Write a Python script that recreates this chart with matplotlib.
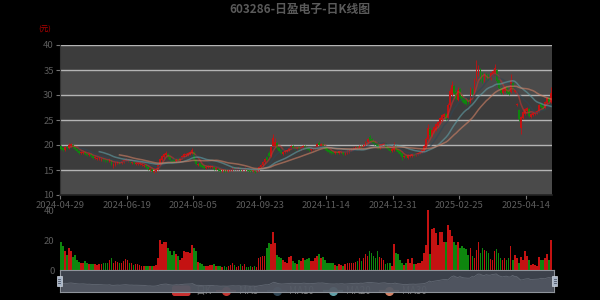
import numpy as np
import pandas as pd
import matplotlib
matplotlib.use('Agg')
import matplotlib.pyplot as plt
from matplotlib.patches import FancyBboxPatch, Rectangle
from matplotlib.lines import Line2D

plt.rcParams['font.family'] = ['Noto Sans CJK SC', 'DejaVu Sans']

title = '603286-日盈电子-日K线图'
unit_label = '(元)'
date_labels = ['2024-04-29', '2024-06-19', '2024-08-05', '2024-09-23',
               '2024-11-14', '2024-12-31', '2025-02-25', '2025-04-14']
label_step = 33  # trading days between labelled dates

# daily candles
opens = [
    19.8, 19.4, 19.0, 19.7, 19.4, 19.9, 20.1, 19.7, 19.2, 18.8,
    18.4, 18.5, 18.6, 18.3, 18.0, 18.2, 17.9, 17.4, 17.3, 17.2,
    17.1, 17.3, 17.1, 17.0, 16.8, 17.0, 15.8, 16.1, 16.4, 16.7,
    16.4, 16.7, 17.0, 16.8, 16.9, 16.5, 16.7, 16.3, 16.3, 16.2,
    16.1, 15.9, 16.0, 15.6, 15.1, 15.3, 14.7, 14.9, 15.2, 16.0,
    17.0, 17.6, 18.0, 18.2, 17.6, 17.1, 17.2, 16.8, 17.3, 17.0,
    17.4, 17.7, 18.0, 18.1, 18.3, 18.5, 18.6, 17.0, 16.0, 16.3,
    16.0, 15.8, 15.5, 15.6, 15.6, 15.7, 15.6, 15.2, 15.3, 15.1,
    14.8, 15.1, 15.0, 14.9, 15.0, 15.1, 15.5, 15.2, 15.2, 15.4,
    15.0, 15.1, 15.3, 15.1, 15.0, 14.8, 15.0, 14.8, 15.1, 15.6,
    16.1, 16.6, 17.6, 18.4, 17.9, 19.8, 19.8, 20.4, 19.5, 19.0,
    18.3, 18.6, 18.8, 19.0, 19.4, 19.8, 19.5, 19.2, 19.6, 19.2,
    19.5, 19.9, 19.6, 19.4, 19.0, 19.2, 19.4, 19.7, 20.5, 19.9,
    20.3, 19.8, 19.4, 19.0, 18.8, 18.7, 18.4, 18.7, 18.5, 18.6,
    18.7, 18.2, 18.4, 18.7, 19.0, 19.2, 19.4, 19.7, 19.4, 19.9,
    19.6, 20.0, 20.6, 21.6, 21.2, 20.8, 20.4, 20.4, 19.5, 19.8,
    20.0, 20.2, 19.6, 19.3, 18.9, 19.0, 19.9, 19.2, 18.8, 18.4,
    17.7, 17.9, 17.5, 17.9, 17.8, 18.3, 18.0, 18.2, 18.4, 18.6,
    18.9, 19.7, 21.3, 23.2, 21.8, 22.6, 23.0, 23.8, 24.4, 25.0,
    25.6, 26.3, 25.5, 28.0, 30.0, 31.8, 30.6, 29.0, 31.2, 29.8,
    29.4, 29.0, 29.0, 28.6, 31.2, 30.4, 33.0, 34.0, 35.2, 34.4,
    32.8, 34.2, 34.0, 33.2, 34.0, 34.2, 35.0, 33.0, 31.5, 30.4,
    30.8, 31.6, 31.0, 30.6, 32.5, 30.6, 28.0, 27.0, 23.5, 25.4,
    26.2, 26.8, 27.2, 25.6, 26.0, 26.2, 26.4, 26.8, 28.2, 27.8,
    27.4, 28.4, 29.4, 28.6,
]
closes = [
    19.3, 19.0, 19.6, 19.4, 20.0, 20.2, 19.7, 19.2, 18.8, 18.5,
    18.6, 18.7, 18.3, 18.0, 18.2, 17.9, 17.5, 17.6, 17.5, 17.4,
    17.3, 17.0, 16.9, 16.8, 17.2, 16.3, 16.2, 16.5, 16.7, 16.4,
    16.8, 17.1, 17.3, 17.0, 16.6, 16.7, 16.4, 16.5, 16.4, 16.4,
    16.3, 16.1, 15.6, 15.2, 15.3, 14.9, 14.9, 15.2, 16.0, 17.2,
    17.8, 18.2, 18.4, 17.6, 17.0, 16.6, 16.8, 17.3, 17.0, 17.4,
    17.8, 18.2, 18.3, 18.4, 18.6, 19.1, 17.2, 16.2, 16.3, 15.9,
    15.6, 15.5, 15.7, 15.8, 15.8, 15.9, 15.3, 15.4, 15.0, 14.8,
    15.0, 14.9, 14.8, 15.1, 15.3, 15.5, 15.2, 15.3, 15.4, 15.0,
    15.2, 15.4, 15.1, 14.9, 14.8, 15.0, 14.7, 15.0, 15.6, 16.1,
    16.6, 17.2, 17.1, 17.9, 19.6, 21.4, 20.6, 19.4, 18.8, 18.4,
    18.7, 18.9, 19.1, 19.5, 19.8, 19.4, 19.2, 19.4, 19.2, 19.6,
    19.9, 19.5, 19.3, 19.0, 19.3, 19.5, 19.7, 20.2, 20.0, 20.3,
    19.8, 19.3, 18.9, 18.6, 18.5, 18.4, 18.7, 18.5, 18.8, 18.9,
    18.3, 18.5, 18.8, 19.1, 19.3, 19.5, 19.7, 19.4, 19.9, 19.6,
    20.1, 20.7, 21.2, 21.0, 20.6, 20.3, 20.0, 19.5, 20.0, 20.3,
    20.4, 19.6, 19.2, 18.9, 19.2, 20.0, 19.1, 18.6, 18.2, 17.7,
    17.9, 17.6, 18.1, 18.1, 18.3, 18.0, 18.2, 18.5, 18.7, 19.0,
    19.8, 21.2, 23.4, 22.0, 23.0, 23.6, 24.2, 24.6, 25.4, 26.0,
    26.2, 25.3, 28.0, 30.8, 32.0, 30.4, 29.2, 31.0, 29.6, 28.8,
    28.5, 28.2, 28.4, 31.0, 30.2, 33.0, 35.2, 35.0, 33.4, 32.6,
    34.2, 33.4, 33.2, 34.4, 34.8, 35.4, 32.8, 31.4, 30.4, 31.2,
    31.6, 30.4, 30.2, 33.0, 31.2, 31.0, 28.3, 25.2, 25.6, 26.6,
    27.2, 27.4, 25.8, 26.2, 26.4, 26.6, 26.8, 28.0, 27.6, 27.3,
    28.6, 29.4, 28.6, 30.4,
]
# wick length above / below the body
upper_wick = [
    0.2, 0.2, 0.2, 0.2, 0.4, 0.3, 0.2, 0.2, 0.2, 0.2,
    0.2, 0.2, 0.2, 0.2, 0.2, 0.2, 0.2, 0.2, 0.2, 0.2,
    0.2, 0.2, 0.2, 0.2, 0.2, 0.2, 0.2, 0.2, 0.2, 0.2,
    0.2, 0.2, 0.2, 0.2, 0.2, 0.2, 0.2, 0.2, 0.2, 0.2,
    0.2, 0.2, 0.2, 0.2, 0.2, 0.2, 0.2, 0.2, 0.2, 0.3,
    0.2, 0.2, 0.4, 0.2, 0.2, 0.2, 0.2, 0.2, 0.2, 0.2,
    0.2, 0.2, 0.2, 0.2, 0.2, 0.4, 0.2, 0.2, 0.2, 0.2,
    0.2, 0.2, 0.2, 0.2, 0.2, 0.2, 0.2, 0.2, 0.2, 0.2,
    0.2, 0.2, 0.2, 0.2, 0.2, 0.2, 0.2, 0.2, 0.2, 0.2,
    0.2, 0.2, 0.2, 0.2, 0.2, 0.2, 0.2, 0.2, 0.2, 0.2,
    0.2, 0.2, 0.2, 0.4, 0.2, 0.9, 0.9, 0.2, 0.2, 0.2,
    0.2, 0.2, 0.2, 0.2, 0.2, 0.2, 0.2, 0.2, 0.2, 0.2,
    0.2, 0.2, 0.2, 0.2, 0.2, 0.2, 0.2, 0.2, 0.3, 0.2,
    0.2, 0.2, 0.2, 0.2, 0.2, 0.2, 0.2, 0.2, 0.2, 0.2,
    0.2, 0.2, 0.2, 0.2, 0.2, 0.2, 0.2, 0.2, 0.2, 0.2,
    0.2, 0.2, 0.2, 0.4, 0.2, 0.2, 0.2, 0.2, 0.2, 0.2,
    0.2, 0.2, 0.2, 0.2, 0.2, 0.6, 0.2, 0.2, 0.2, 0.2,
    0.2, 0.2, 0.2, 0.2, 0.2, 0.2, 0.2, 0.2, 0.2, 0.2,
    0.2, 0.4, 0.9, 0.2, 0.2, 0.2, 0.2, 0.2, 0.2, 0.2,
    0.2, 0.2, 0.5, 0.6, 0.8, 0.2, 0.2, 0.7, 0.2, 0.2,
    0.2, 0.2, 0.2, 0.6, 0.2, 0.5, 1.8, 1.0, 0.2, 0.2,
    0.2, 0.2, 0.2, 0.2, 0.2, 0.9, 0.2, 0.2, 0.2, 0.2,
    0.2, 0.2, 0.2, 1.3, 0.2, 0.2, 0.2, 0.2, 0.2, 0.2,
    0.2, 0.2, 0.2, 0.2, 0.2, 0.2, 0.2, 0.2, 0.2, 0.2,
    0.2, 0.2, 0.2, 1.3,
]
lower_wick = [
    0.2, 0.2, 0.2, 0.2, 0.2, 0.2, 0.2, 0.2, 0.2, 0.2,
    0.2, 0.2, 0.2, 0.2, 0.2, 0.2, 0.2, 0.2, 0.2, 0.2,
    0.2, 0.2, 0.2, 0.2, 0.2, 0.2, 0.3, 0.2, 0.2, 0.2,
    0.2, 0.2, 0.2, 0.2, 0.2, 0.2, 0.2, 0.2, 0.2, 0.2,
    0.2, 0.2, 0.2, 0.2, 0.2, 0.2, 0.3, 0.2, 0.2, 0.2,
    0.2, 0.2, 0.2, 0.2, 0.2, 0.2, 0.2, 0.2, 0.2, 0.2,
    0.2, 0.2, 0.2, 0.2, 0.2, 0.2, 0.3, 0.2, 0.2, 0.2,
    0.2, 0.2, 0.2, 0.2, 0.2, 0.2, 0.2, 0.2, 0.2, 0.2,
    0.2, 0.2, 0.2, 0.2, 0.2, 0.2, 0.2, 0.2, 0.2, 0.2,
    0.2, 0.2, 0.2, 0.2, 0.2, 0.2, 0.2, 0.2, 0.2, 0.2,
    0.2, 0.2, 0.2, 0.2, 0.2, 0.2, 0.2, 0.2, 0.2, 0.2,
    0.2, 0.2, 0.2, 0.2, 0.2, 0.2, 0.2, 0.2, 0.2, 0.2,
    0.2, 0.2, 0.2, 0.2, 0.2, 0.2, 0.2, 0.2, 0.2, 0.2,
    0.2, 0.2, 0.2, 0.2, 0.2, 0.2, 0.2, 0.2, 0.2, 0.2,
    0.2, 0.2, 0.2, 0.2, 0.2, 0.2, 0.2, 0.2, 0.2, 0.2,
    0.2, 0.2, 0.2, 0.2, 0.2, 0.2, 0.2, 0.2, 0.2, 0.2,
    0.2, 0.2, 0.2, 0.2, 0.2, 0.2, 0.2, 0.2, 0.2, 0.7,
    0.2, 0.2, 0.2, 0.2, 0.2, 0.2, 0.2, 0.2, 0.2, 0.2,
    0.2, 0.2, 0.2, 0.2, 0.2, 0.2, 0.2, 0.2, 0.2, 0.2,
    0.2, 0.2, 0.2, 0.2, 0.2, 0.2, 0.2, 0.2, 0.2, 0.2,
    0.2, 0.2, 0.2, 0.2, 0.2, 0.2, 0.2, 0.2, 0.5, 0.2,
    0.2, 0.2, 0.2, 0.2, 0.2, 0.2, 0.4, 0.2, 0.2, 0.2,
    0.2, 0.2, 0.2, 0.2, 0.2, 0.2, 0.2, 0.3, 1.2, 0.2,
    0.2, 0.2, 0.2, 0.2, 0.2, 0.2, 0.2, 0.2, 0.2, 0.2,
    0.2, 0.2, 0.2, 0.2,
]
volumes = [
    18.6, 15.7, 13.0, 10.0, 14.6, 12.4, 9.0, 10.0, 7.0, 5.6,
    4.5, 5.0, 6.0, 5.0, 4.0, 4.0, 4.0, 3.8, 3.3, 4.0,
    4.0, 5.0, 4.7, 4.7, 6.7, 7.8, 5.0, 6.0, 5.6, 4.5,
    5.0, 6.2, 7.3, 6.7, 4.5, 4.5, 3.3, 4.0, 4.0, 3.3,
    2.7, 3.0, 2.7, 2.7, 3.0, 2.7, 2.7, 3.3, 7.8, 20.0,
    17.3, 19.0, 18.4, 14.6, 12.4, 10.0, 12.4, 10.5, 9.6, 6.7,
    7.8, 12.8, 11.7, 11.9, 11.2, 16.8, 15.0, 12.8, 5.6, 4.5,
    3.8, 2.7, 2.7, 2.7, 3.1, 3.3, 3.8, 2.7, 2.7, 2.7,
    2.2, 3.0, 1.8, 2.7, 3.3, 4.5, 3.3, 2.2, 2.7, 3.8,
    2.7, 3.8, 2.2, 2.2, 2.7, 2.2, 2.7, 2.2, 7.8, 9.0,
    9.6, 9.6, 14.6, 18.0, 17.3, 25.4, 18.0, 10.0, 9.0, 7.8,
    6.7, 5.6, 5.0, 9.0, 9.6, 6.0, 4.5, 3.8, 6.7, 6.0,
    8.3, 6.7, 7.3, 8.3, 6.0, 6.0, 7.8, 9.6, 10.5, 7.8,
    9.0, 6.7, 4.5, 4.5, 4.5, 4.5, 3.3, 3.0, 3.8, 3.3,
    2.7, 3.8, 4.5, 5.0, 5.0, 5.0, 5.6, 6.0, 7.8, 6.0,
    8.3, 10.5, 9.6, 12.4, 11.2, 9.6, 7.8, 12.8, 9.0, 8.3,
    6.7, 3.8, 4.5, 4.5, 2.7, 17.3, 11.2, 10.5, 6.7, 4.5,
    3.3, 4.5, 7.3, 4.5, 7.8, 4.0, 3.8, 4.5, 5.0, 6.0,
    11.2, 16.4, 39.8, 10.5, 27.6, 28.0, 24.7, 16.9, 25.4, 25.4,
    19.0, 19.0, 30.0, 27.0, 22.5, 19.0, 16.9, 19.0, 15.0, 15.7,
    14.6, 14.0, 10.0, 15.0, 9.6, 7.8, 13.5, 18.7, 11.2, 14.6,
    13.5, 12.4, 11.2, 7.3, 6.7, 12.8, 14.0, 11.2, 7.8, 6.7,
    7.8, 6.7, 8.3, 15.7, 6.7, 10.0, 8.3, 4.5, 9.0, 6.7,
    12.8, 9.6, 6.7, 3.3, 3.8, 3.3, 2.7, 9.0, 6.7, 6.7,
    7.8, 10.5, 6.7, 20.0,
]

ma_windows = [5, 10, 20, 30]
ma_names = ['MA5', 'MA10', 'MA20', 'MA30']
ma_colors = ['#c23531', '#2f4554', '#61a0a8', '#d48265']
up_color = '#c41212'
down_color = '#0e860e'
text_grey = '#5c5c5c'

o = np.array(opens)
c = np.array(closes)
n = len(c)
idx = np.arange(n)
highs = np.maximum(o, c) + np.array(upper_wick)
lows = np.minimum(o, c) - np.array(lower_wick)
colors = [up_color if ci >= oi else down_color for oi, ci in zip(opens, closes)]

fig = plt.figure(figsize=(6, 3), dpi=100, facecolor='black')

# price panel
ax = fig.add_axes([0.1, 0.35, 0.82, 0.5])
ax.set_facecolor('black')
ax.set_xlim(-0.5, n - 0.5)
ax.set_ylim(10, 40)
bands = ['#4a4a4a', '#3c3c3c']
for k, lo in enumerate(range(10, 40, 5)):
    ax.axhspan(lo, lo + 5, color=bands[k % 2], zorder=0, lw=0)
for y in range(15, 45, 5):
    ax.axhline(y, color='#b4b4b4', lw=1, zorder=1)

ax.vlines(idx, lows, highs, colors=colors, lw=0.6, zorder=3)
ax.bar(idx, np.maximum(np.abs(c - o), 0.06), bottom=np.minimum(o, c),
       width=0.8, color=colors, lw=0, zorder=4)

for w, col in zip(ma_windows, ma_colors):
    ma = pd.Series(c).rolling(w).mean()
    ax.plot(idx, ma, color=col, lw=1.1, alpha=0.6, zorder=5)

ax.set_xticks(np.arange(len(date_labels)) * label_step - 0.5)
ax.set_xticklabels(date_labels)
ax.set_yticks(range(10, 41, 5))
ax.tick_params(axis='both', colors='#777777', labelcolor=text_grey,
               labelsize=6.8, length=3, width=0.8, pad=1.5)
for side in ['top', 'right']:
    ax.spines[side].set_visible(False)
ax.spines['left'].set_color('#333333')
ax.spines['bottom'].set_color('#222222')
ax.spines['bottom'].set_linewidth(1.2)

# volume panel
vax = fig.add_axes([0.1, 0.1, 0.82, 0.2])
vax.set_facecolor('none')
vax.bar(idx, volumes, width=0.82, color=colors, lw=0)
vax.set_xlim(-0.5, n - 0.5)
vax.set_ylim(0, 40)
vax.set_yticks([0, 20, 40])
vax.set_xticks([])
vax.tick_params(axis='y', length=0, labelcolor=text_grey, labelsize=6.8, pad=4)
for s in vax.spines.values():
    s.set_visible(False)

# overlay in pixel coordinates for title, unit and legend
ov = fig.add_axes([0, 0, 1, 1])
ov.set_xlim(0, 600)
ov.set_ylim(300, 0)
ov.axis('off')
ov.set_zorder(0.5)
ov.text(300, 9, title, ha='center', va='center', fontsize=8.5,
        fontweight='bold', color='#5a5a5a')
ov.text(45, 30, unit_label, ha='center', va='center', fontsize=5.5, color='#b00000')

ov.add_patch(FancyBboxPatch((172, 285.5), 18.5, 10.5,
                            boxstyle='round,pad=0,rounding_size=2.5',
                            fc='#c8302f', ec='none'))
ov.text(195, 291, '日K', ha='left', va='center', fontsize=7, color='#777777')
leg_x = [226, 276.5, 333, 389]
for x, name, col in zip(leg_x, ma_names, ma_colors):
    ov.add_line(Line2D([x - 9, x + 9], [291, 291], color=col, lw=1.5))
    ov.plot(x, 291, 'o', color=col, ms=5.5)
    ov.text(x + 13, 291, name, ha='left', va='center', fontsize=7, color='#777777')

# data zoom slider
sax = fig.add_axes([0.1, 1 - 292 / 300, 494 / 600, 22 / 300])
sax.set_zorder(1)
sax.patch.set_facecolor('#474d59')
sax.patch.set_alpha(0.85)
sax.fill_between(idx, c, 5, color='#5c626d', alpha=0.6, lw=0)
sax.plot(idx, c, color='#626873', lw=0.6)
sax.set_xlim(-0.5, n - 0.5)
sax.set_ylim(5, 42)
sax.set_xticks([])
sax.set_yticks([])
for s in sax.spines.values():
    s.set_color('#8f949c')
    s.set_linewidth(0.8)
for hx in [-0.007, 0.996]:
    sax.add_patch(Rectangle((hx, 0.27), 0.011, 0.45, transform=sax.transAxes,
                            fc='#a9b6c8', ec='#d0d6df', lw=0.5, clip_on=False, zorder=6))
    for gy in [0.4, 0.5, 0.6]:
        sax.add_line(Line2D([hx + 0.003, hx + 0.008], [gy, gy], transform=sax.transAxes,
                            color='#4a5060', lw=0.6, clip_on=False, zorder=7))

fig.savefig('out.png', dpi=100, facecolor='black')
